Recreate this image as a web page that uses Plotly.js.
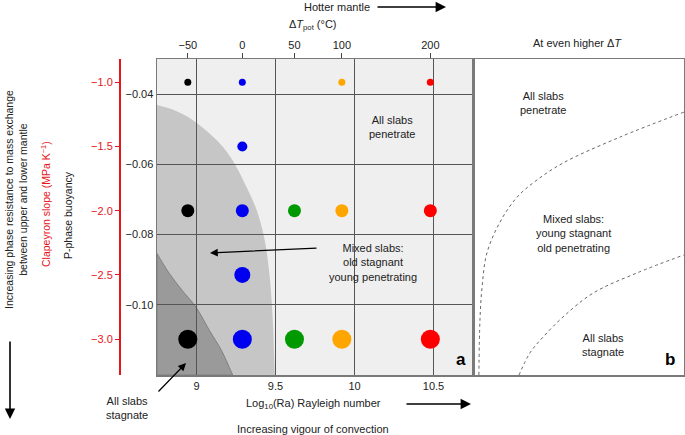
<!DOCTYPE html>
<html><head><meta charset="utf-8">
<script src="https://cdn.plot.ly/plotly-3.0.1.min.js"></script>
<style>html,body{margin:0;padding:0;background:#fff}</style>
</head><body><div id="chart" style="width:685px;height:435px"></div>
<script>
window.onerror = function (m) { document.body.insertAdjacentHTML('beforeend', '<pre style="position:absolute;top:0;left:0;color:red">' + m + '</pre>'); };
// ---------- data ----------
const deltaTLabels = ['\u221250', '0', '50', '100', '200'];
const deltaTLogRa = [8.945, 9.29, 9.62, 9.92, 10.48];
const clapBlack  = [-1.0, -2.0, -3.0];
const clapBlue   = [-1.0, -1.5, -2.0, -2.5, -3.0];
const clapGreen  = [-2.0, -3.0];
const clapOrange = [-1.0, -2.0, -3.0];
const clapRed    = [-1.0, -2.0, -3.0];
const raTicks = [9, 9.5, 10, 10.5];
const buoyTicks = [-0.04, -0.06, -0.08, -0.10];
const clapTicks = [-1.0, -1.5, -2.0, -2.5, -3.0];
// regime boundaries, panel a (log10 Ra, P-phase buoyancy)
const mixedBoundRa = [8.75, 8.86, 8.975, 9.127, 9.229, 9.318, 9.381, 9.432, 9.464, 9.483, 9.496];
const mixedBoundB  = [-0.0431, -0.0446, -0.0474, -0.0531, -0.0589, -0.0666, -0.0731, -0.0817, -0.0923, -0.1046, -0.12];
const stagBoundRa  = [8.75, 8.828, 8.911, 9.0, 9.083, 9.159, 9.229];
const stagBoundB   = [-0.0854, -0.0911, -0.096, -0.1009, -0.1074, -0.1131, -0.12];
// regime boundaries, panel b (schematic, fraction of panel)
const youngStagX = [0.028, 0.033, 0.043, 0.066, 0.128, 0.209, 0.303, 0.427, 0.697, 1.0];
const youngStagY = [0.0, 0.174, 0.278, 0.386, 0.484, 0.563, 0.617, 0.671, 0.753, 0.832];
const allStagX = [0.218, 0.270, 0.332, 0.427, 0.569, 0.777, 1.0];
const allStagY = [0.0, 0.070, 0.120, 0.184, 0.259, 0.323, 0.380];

// ---------- styles ----------
const K = 0.0366; // buoyancy per Clapeyron unit (axis alignment)
const xRange = [8.75, 10.75];
const bRange = [-0.12, -0.03];
const cRange = [bRange[0] / K, bRange[1] / K];
const sizeFor = c => ({'-1': 7, '-1.5': 10, '-2': 13, '-2.5': 16, '-3': 19})[String(c)];
const FONT = 'Liberation Sans, Arial, Helvetica, sans-serif';
const TXT = '#222';

function dotTrace(col, clap, color) {
  return {
    type: 'scatter', mode: 'markers', xaxis: 'x', yaxis: 'y3',
    x: clap.map(() => deltaTLogRa[col]), y: clap,
    marker: {color: color, size: clap.map(sizeFor), opacity: 1, line: {width: 0}},
    hoverinfo: 'skip', showlegend: false
  };
}
function smoothPath(xs, ys) {
  const n = xs.length, f = v => v.toFixed(6);
  let d = 'M' + f(xs[0]) + ',' + f(ys[0]);
  for (let i = 0; i < n - 1; i++) {
    const p0 = i > 0 ? i - 1 : i, p1 = i, p2 = i + 1, p3 = i + 2 < n ? i + 2 : i + 1;
    const c1x = xs[p1] + (xs[p2] - xs[p0]) / 6, c1y = ys[p1] + (ys[p2] - ys[p0]) / 6;
    const c2x = xs[p2] - (xs[p3] - xs[p1]) / 6, c2y = ys[p2] - (ys[p3] - ys[p1]) / 6;
    d += ' C' + f(c1x) + ',' + f(c1y) + ' ' + f(c2x) + ',' + f(c2y) + ' ' + f(xs[p2]) + ',' + f(ys[p2]);
  }
  return d;
}

const traces = [
  // invisible traces to activate base subplot and top axis
  {type: 'scatter', mode: 'markers', xaxis: 'x', yaxis: 'y', x: [xRange[0]], y: [bRange[0]],
   marker: {opacity: 0}, hoverinfo: 'skip', showlegend: false},
  {type: 'scatter', mode: 'markers', xaxis: 'x2', yaxis: 'y', x: [xRange[0]], y: [bRange[0]],
   marker: {opacity: 0}, hoverinfo: 'skip', showlegend: false},
  dotTrace(0, clapBlack, '#000000'),
  dotTrace(1, clapBlue, '#0000f0'),
  dotTrace(2, clapGreen, '#009a00'),
  dotTrace(3, clapOrange, '#ffa500'),
  dotTrace(4, clapRed, '#ff0000'),
  {type: 'scatter', mode: 'lines', xaxis: 'x3', yaxis: 'y4', x: youngStagX, y: youngStagY,
   line: {shape: 'spline', dash: '3px,3px', width: 1, color: '#666'}, hoverinfo: 'skip', showlegend: false},
  {type: 'scatter', mode: 'lines', xaxis: 'x3', yaxis: 'y4', x: allStagX, y: allStagY,
   line: {shape: 'spline', dash: '3px,3px', width: 1, color: '#666'}, hoverinfo: 'skip', showlegend: false}
];

// pixel -> paper helpers
const L = 157, T = 59, W = 527, H = 316;
const px = x => (x - L) / W;
const py = y => (T + H - y) / H;
function txt(x, y, text, opts) {
  return Object.assign({xref: 'paper', yref: 'paper', x: px(x), y: py(y), text: text, showarrow: false,
    xanchor: 'center', yanchor: 'middle', font: {family: FONT, size: 11, color: TXT}}, opts || {});
}
function arrow(hx, hy, tx, ty, w) {
  return {xref: 'paper', yref: 'paper', x: px(hx), y: py(hy), ax: tx - hx, ay: ty - hy, text: '',
    showarrow: true, arrowhead: 2, arrowsize: 1.3, arrowwidth: w || 1.2, arrowcolor: '#000'};
}

const annotations = [
  txt(339, 7, 'Hotter mantle', {xanchor: 'right', x: px(372)}),
  arrow(446, 7, 376, 7, 1.6),
  txt(313, 25, '\u0394<i>T</i><sub>pot</sub> (\u00b0C)'),
  txt(577, 43, 'At even higher \u0394<i>T</i>'),
  txt(392, 127, 'All slabs<br>penetrate'),
  txt(373, 262, 'Mixed slabs:<br>old stagnant<br>young penetrating'),
  arrow(210, 253, 318, 248, 1.2),
  txt(461, 359, '<b>a</b>', {font: {family: FONT, size: 17, color: '#000'}}),
  txt(670, 359, '<b>b</b>', {font: {family: FONT, size: 17, color: '#000'}}),
  txt(543, 103, 'All slabs<br>penetrate'),
  txt(573, 233, 'Mixed slabs:<br>young stagnant<br>old penetrating'),
  txt(603, 345, 'All slabs<br>stagnate'),
  txt(127, 408, 'All slabs<br>stagnate'),
  arrow(186, 363, 157, 393, 1.2),
  txt(313, 404, 'Log<sub>10</sub>(Ra) Rayleigh number'),
  arrow(471, 404, 405, 404, 1.6),
  txt(313, 429, 'Increasing vigour of convection'),
  txt(16, 200, 'Increasing phase resistance to mass exchange<br>between upper and lower mantle',
      {textangle: -90, font: {family: FONT, size: 10.5, color: TXT}}),
  arrow(10, 419, 10, 340, 1.6),
  txt(45, 204, 'Clapeyron slope (MPa K<sup>\u22121</sup>)', {textangle: -90, font: {family: FONT, size: 10.5, color: '#e8151b'}}),
  txt(68, 215, 'P-phase buoyancy', {textangle: -90, font: {family: FONT, size: 10.5, color: TXT}})
];

const shapes = [
  {type: 'rect', xref: 'x', yref: 'y', x0: xRange[0], x1: xRange[1], y0: bRange[0], y1: bRange[1],
   fillcolor: '#efefef', line: {width: 0}, layer: 'below'},
  {type: 'path', xref: 'x', yref: 'y', path: smoothPath(mixedBoundRa, mixedBoundB) + ' L' + xRange[0] + ',' + bRange[0] + ' Z',
   fillcolor: '#c6c6c6', line: {width: 0}, layer: 'below'},
  {type: 'path', xref: 'x', yref: 'y', path: smoothPath(stagBoundRa, stagBoundB) + ' L' + xRange[0] + ',' + bRange[0] + ' Z',
   fillcolor: '#9a9a9a', line: {width: 1, color: '#808080'}, layer: 'below'}
];

const tickFont = {family: FONT, size: 11, color: TXT};
const layout = {
  width: 685, height: 435,
  margin: {l: L, r: 1, t: T, b: 60},
  paper_bgcolor: '#fff', plot_bgcolor: '#fff',
  font: {family: FONT, size: 11, color: TXT},
  showlegend: false,
  xaxis: {domain: [0, 316 / W], range: xRange, anchor: 'y', tickvals: raTicks, ticktext: ['9', '9.5', '10', '10.5'],
    showgrid: true, gridcolor: '#555', gridwidth: 1, zeroline: false, ticks: '',
    showline: true, mirror: true, linecolor: '#7a7a7a', linewidth: 1.5, tickfont: tickFont},
  xaxis2: {overlaying: 'x', side: 'top', range: xRange, anchor: 'y', tickvals: deltaTLogRa, ticktext: deltaTLabels,
    showgrid: false, zeroline: false, ticks: 'outside', ticklen: 5, tickcolor: '#444', tickwidth: 1,
    showline: false, tickfont: tickFont},
  yaxis: {domain: [0, 1], range: bRange, anchor: 'x', tickvals: buoyTicks, tickformat: '.2f',
    showgrid: true, gridcolor: '#555', gridwidth: 1, zeroline: false, ticks: '',
    showline: true, mirror: true, linecolor: '#7a7a7a', linewidth: 1.5, tickfont: tickFont},
  yaxis3: {overlaying: 'y', anchor: 'free', position: 0, shift: -38, side: 'left', range: cRange,
    tickvals: clapTicks, tickformat: '.1f', showgrid: false, zeroline: false,
    showline: true, linecolor: '#e8151b', linewidth: 1.5, ticks: 'outside', ticklen: 4, tickcolor: '#e8151b',
    tickfont: {family: FONT, size: 11, color: '#e8151b'}},
  xaxis3: {domain: [316 / W, 1], range: [0, 1], anchor: 'y4', showgrid: false, zeroline: false,
    showticklabels: false, ticks: '', showline: true, mirror: true, linecolor: '#7a7a7a', linewidth: 1.5},
  yaxis4: {domain: [0, 1], range: [0, 1], anchor: 'x3', showgrid: false, zeroline: false,
    showticklabels: false, ticks: '', showline: true, mirror: true, linecolor: '#7a7a7a', linewidth: 1.5},
  shapes: shapes,
  annotations: annotations
};

Plotly.newPlot('chart', traces, layout, {staticPlot: true, displayModeBar: false}).catch(e => window.onerror(String(e)));
</script></body></html>
